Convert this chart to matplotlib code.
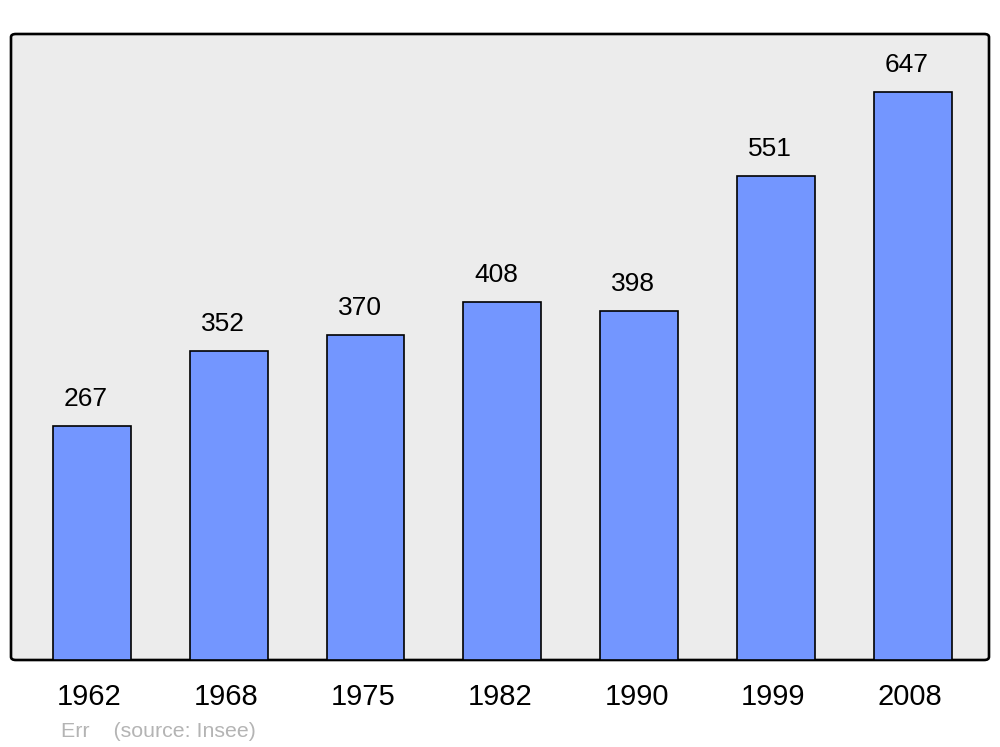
import matplotlib.pyplot as plt
from matplotlib.patches import FancyBboxPatch

# données
annees = ['1962', '1968', '1975', '1982', '1990', '1999', '2008']
population = [267, 352, 370, 408, 398, 551, 647]

plt.rcParams['font.family'] = ['Liberation Sans', 'DejaVu Sans']

fig = plt.figure(figsize=(10, 7.47), dpi=100)
ax = fig.add_axes([0.011, 1 - 660 / 747, 0.978, (660 - 34) / 747])
ax.set_axis_off()

# fond gris arrondi
fond = FancyBboxPatch((0, 0), 1, 1, boxstyle='round,pad=0,rounding_size=0.005',
                      transform=ax.transAxes, facecolor='#ececec', edgecolor='black',
                      linewidth=1.9, zorder=0, clip_on=False)
ax.add_patch(fond)

x = range(len(annees))
barres = ax.bar(x, population, 0.57, color='#7396ff', edgecolor='black',
                linewidth=1.2, zorder=2)

for i, v in enumerate(population):
    ax.annotate(str(v), xy=(i, v), xytext=(-4.3, 14.4), textcoords='offset points',
                ha='center', va='baseline', fontsize=19)
    ax.annotate(annees[i], xy=(i, 0), xytext=(-1.8, -32.4), textcoords='offset points',
                ha='center', va='baseline', fontsize=21, annotation_clip=False)

ax.set_xlim(-0.592, 6.559)
ax.set_ylim(0, 713)

fig.text(0.061, 1 - 737 / 747, 'Err    (source: Insee)', color='#b4b4b4',
         fontsize=15.4, ha='left', va='baseline')

fig.savefig('out.png', dpi=100)
